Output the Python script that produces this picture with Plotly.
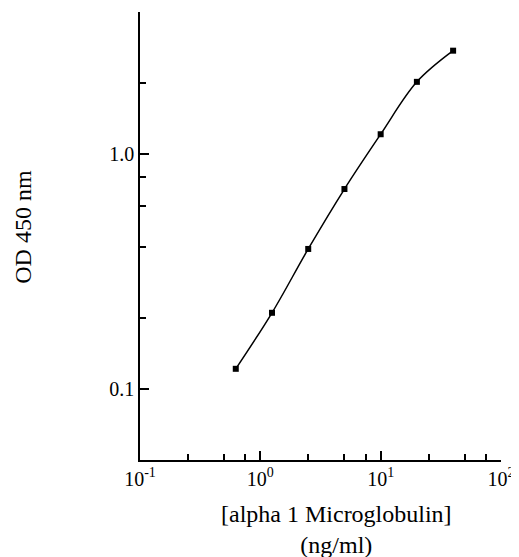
import plotly.graph_objects as go

conc = [0.625, 1.25, 2.5, 5, 10, 20, 40]
od = [0.122, 0.211, 0.394, 0.708, 1.21, 2.02, 2.74]

x_tickvals = [0.1, 1, 10, 100]
x_ticktext = ["10<sup>-1</sup>", "10<sup>0</sup>", "10<sup>1</sup>", "10<sup>2</sup>"]
x_minor = [0.25, 0.5, 0.75, 2.5, 5, 7.5, 25, 50, 75]
y_tickvals = [0.1, 1.0]
y_ticktext = ["0.1", "1.0"]
y_minor = [0.2, 0.4, 0.6, 0.8, 2, 4]

FONT = "Liberation Serif, Times New Roman, serif"

fig = go.Figure()
fig.add_trace(go.Scatter(
    x=conc, y=od, mode="lines+markers",
    line=dict(color="black", width=1.5, shape="spline", smoothing=1.0),
    marker=dict(symbol="square", size=6, color="black"),
    showlegend=False, hoverinfo="skip",
))

fig.update_layout(
    width=511, height=549,
    margin=dict(l=132, r=18, t=4, b=97),
    plot_bgcolor="white", paper_bgcolor="white",
    font=dict(family=FONT, color="black", size=20),
    xaxis=dict(
        type="log", range=[-1, 2],
        tickvals=x_tickvals, ticktext=x_ticktext,
        ticks="inside", ticklen=9, tickwidth=1.5, tickcolor="black",
        showline=True, linecolor="black", linewidth=1.5,
        showgrid=False, zeroline=False,
        tickfont=dict(size=20),
        minor=dict(tickvals=x_minor, ticks="inside", ticklen=6, tickwidth=1.5,
                   tickcolor="black", showgrid=False),
    ),
    yaxis=dict(
        type="log", range=[-1.30103, 0.60206],
        tickvals=y_tickvals, ticktext=y_ticktext,
        ticks="inside", ticklen=9, tickwidth=1.5, tickcolor="black",
        showline=True, linecolor="black", linewidth=1.5,
        showgrid=False, zeroline=False,
        tickfont=dict(size=20),
        minor=dict(tickvals=y_minor, ticks="inside", ticklen=6, tickwidth=1.5,
                   tickcolor="black", showgrid=False),
    ),
    annotations=[
        dict(text="[alpha 1 Microglobulin]<br>(ng/ml)", xref="paper", yref="paper",
             x=0.543, y=-0.088, xanchor="center", yanchor="top", showarrow=False,
             font=dict(size=24, family=FONT)),
        dict(text="OD 450 nm", xref="paper", yref="paper",
             x=-0.325, y=0.52, xanchor="center", yanchor="middle", showarrow=False,
             textangle=-90, font=dict(size=24, family=FONT)),
    ],
)

fig.write_html("out.html")
